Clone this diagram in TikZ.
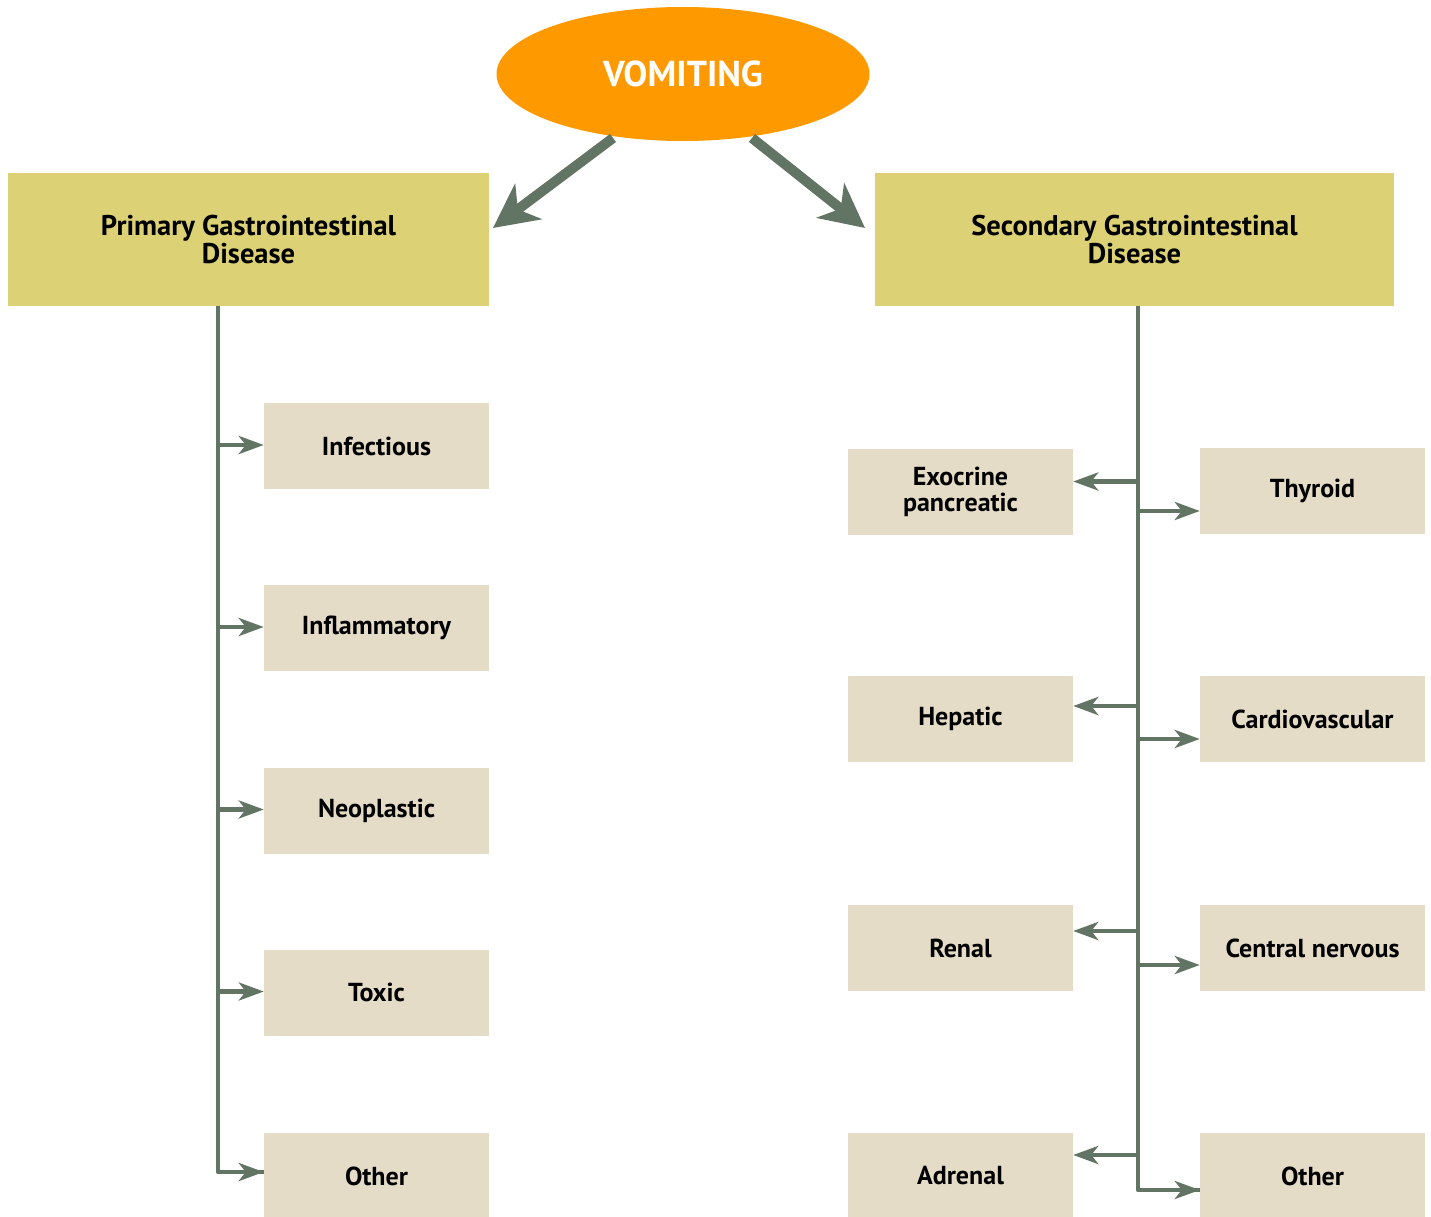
\documentclass[tikz,border=0pt]{standalone}
\usepackage{fontspec}
\setmainfont{PT Sans}
\usetikzlibrary{shapes.geometric,arrows.meta,calc}
\definecolor{vorange}{HTML}{FF9900}
\definecolor{olivebox}{HTML}{DCD275}
\definecolor{beigebox}{HTML}{E5DCC8}
\definecolor{linegreen}{HTML}{627564}
\begin{document}
\begin{tikzpicture}[x=1pt,y=-1pt,
  headbox/.style={fill=olivebox,draw=none,minimum width=481pt,minimum height=133pt,inner sep=0pt,align=center,font=\fontsize{28.5}{26}\selectfont\bfseries},
  catbox/.style={fill=beigebox,draw=none,minimum width=225pt,minimum height=86pt,inner sep=0pt,align=center,font=\fontsize{26}{26}\selectfont\bfseries},
  trunk/.style={draw=linegreen,line width=4.5pt,line join=round},
  branch/.style={draw=linegreen,line width=4.5pt,-{Stealth[length=25pt,width=18pt,inset=7pt]}},
  bigarrow/.style={draw=linegreen,line width=10pt,-{Stealth[length=44pt,width=44pt,inset=13pt]}}
]
\useasboundingbox (0,0) rectangle (1431,1217);
% top
\node[ellipse,fill=vorange,minimum width=373pt,minimum height=134pt,inner sep=0pt,text=white,font=\fontsize{36}{36}\selectfont\bfseries] (vom) at (683,74) {VOMITING};
\node[headbox] (prim) at (248.5,239.5) {Primary Gastrointestinal\\Disease};
\node[headbox,minimum width=519pt] (sec) at (1134.5,239.5) {Secondary Gastrointestinal\\Disease};
\coordinate (ltip) at (493,228);
\coordinate (rtip) at (865,228);
\draw[bigarrow] (613,138) -- (ltip);
\draw[bigarrow] (752,138) -- (rtip);
% left column
\node[catbox] (inf) at (376.5,446) {Infectious};
\node[catbox] (infl) at (376.5,628) {Inflammatory};
\node[catbox] (neo) at (376.5,810.5) {Neoplastic};
\node[catbox] (tox) at (376.5,992.5) {Toxic};
\node[catbox] (oth1) at (376.5,1176) {Other};
\coordinate (lt) at (218,306);
\draw[trunk] (prim.south -| lt) |- ($(oth1.west)+(0,-4)$);
\draw[branch] ($(lt |- inf.west)+(0,-1)$) -- ($(inf.west)+(0,-1)$);
\draw[branch] ($(lt |- infl.west)+(0,-1)$) -- ($(infl.west)+(0,-1)$);
\draw[branch] ($(lt |- neo.west)+(0,-1)$) -- ($(neo.west)+(0,-1)$);
\draw[branch] ($(lt |- tox.west)+(0,-1)$) -- ($(tox.west)+(0,-1)$);
\draw[branch] ($(oth1.west)+(-20,-4)$) -- ($(oth1.west)+(0,-4)$);
% right column
\node[catbox] (exo) at (960.5,491.5) {Exocrine\\pancreatic};
\node[catbox] (hep) at (960.5,719) {Hepatic};
\node[catbox] (ren) at (960.5,948) {Renal};
\node[catbox] (adr) at (960.5,1176) {Adrenal};
\node[catbox] (thy) at (1312.5,491) {Thyroid};
\node[catbox] (car) at (1312.5,719) {Cardiovascular};
\node[catbox] (cns) at (1312.5,948) {Central nervous};
\node[catbox] (oth2) at (1312.5,1176) {Other};
\coordinate (rt) at (1138,306);
\draw[trunk] (sec.south -| rt) |- ($(oth2.west)+(0,14)$);
\draw[branch] ($(rt |- exo.east)+(0,-10)$) -- ($(exo.east)+(0,-10)$);
\draw[branch] ($(rt |- hep.east)+(0,-13)$) -- ($(hep.east)+(0,-13)$);
\draw[branch] ($(rt |- ren.east)+(0,-17)$) -- ($(ren.east)+(0,-17)$);
\draw[branch] ($(rt |- adr.east)+(0,-21)$) -- ($(adr.east)+(0,-21)$);
\draw[branch] ($(rt |- thy.west)+(0,20)$) -- ($(thy.west)+(0,20)$);
\draw[branch] ($(rt |- car.west)+(0,20)$) -- ($(car.west)+(0,20)$);
\draw[branch] ($(rt |- cns.west)+(0,17)$) -- ($(cns.west)+(0,17)$);
\draw[branch] ($(oth2.west)+(-20,14)$) -- ($(oth2.west)+(0,14)$);
\end{tikzpicture}
\end{document}
